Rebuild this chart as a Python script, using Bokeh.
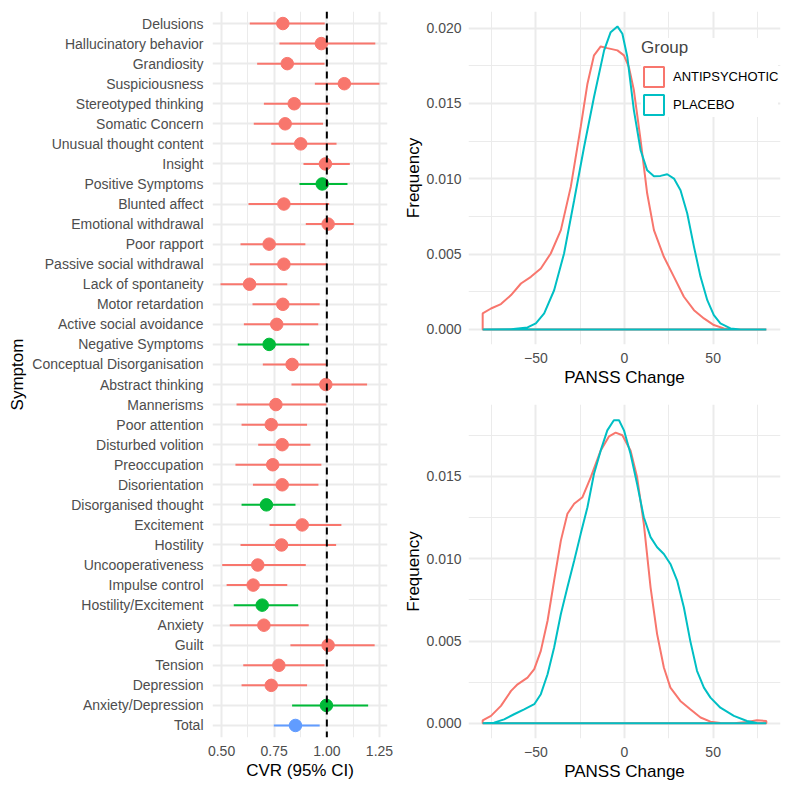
from bokeh.plotting import figure
from bokeh.layouts import row, column
from bokeh.models import (FactorRange, Range1d, FixedTicker, NumeralTickFormatter,
                          Span, Legend, LegendItem, ColumnDataSource)
from bokeh.embed import file_html
from bokeh.resources import INLINE

# ---------------- data: forest plot ----------------
symptoms = ["Delusions", "Hallucinatory behavior", "Grandiosity", "Suspiciousness",
            "Stereotyped thinking", "Somatic Concern", "Unusual thought content", "Insight",
            "Positive Symptoms", "Blunted affect", "Emotional withdrawal", "Poor rapport",
            "Passive social withdrawal", "Lack of spontaneity", "Motor retardation",
            "Active social avoidance", "Negative Symptoms", "Conceptual Disorganisation",
            "Abstract thinking", "Mannerisms", "Poor attention", "Disturbed volition",
            "Preoccupation", "Disorientation", "Disorganised thought", "Excitement",
            "Hostility", "Uncooperativeness", "Impulse control", "Hostility/Excitement",
            "Anxiety", "Guilt", "Tension", "Depression", "Anxiety/Depression", "Total"]
cvr = [0.791, 0.974, 0.812, 1.083, 0.845, 0.802, 0.876, 0.993, 0.978, 0.796, 1.006, 0.726,
       0.796, 0.633, 0.791, 0.762, 0.726, 0.835, 0.995, 0.758, 0.736, 0.788, 0.743, 0.788,
       0.713, 0.883, 0.785, 0.672, 0.650, 0.693, 0.701, 1.006, 0.772, 0.736, 0.998, 0.851]
ci_lo = [0.634, 0.775, 0.669, 0.943, 0.701, 0.653, 0.736, 0.889, 0.870, 0.628, 0.900, 0.590,
         0.634, 0.495, 0.647, 0.606, 0.577, 0.696, 0.832, 0.571, 0.595, 0.674, 0.566, 0.649,
         0.595, 0.728, 0.590, 0.503, 0.524, 0.558, 0.539, 0.827, 0.603, 0.595, 0.835, 0.748]
ci_hi = [0.990, 1.230, 0.989, 1.250, 1.014, 0.982, 1.046, 1.109, 1.098, 1.011, 1.128, 0.898,
         1.001, 0.812, 0.966, 0.959, 0.916, 0.998, 1.191, 0.998, 0.906, 0.922, 0.974, 0.960,
         0.851, 1.069, 1.044, 0.900, 0.812, 0.864, 0.914, 1.227, 0.989, 0.906, 1.196, 0.966]
level = ["item"] * 8 + ["domain"] + ["item"] * 7 + ["domain"] + ["item"] * 7 + ["domain"] + \
        ["item"] * 4 + ["domain"] + ["item"] * 4 + ["domain", "total"]
x_ticks_cvr = [0.50, 0.75, 1.00, 1.25]
x_minor_cvr = [0.625, 0.875, 1.125]

# ---------------- data: density curves ----------------
top_anti_x = [-80, -80, -75.3, -69.7, -64, -58.4, -52.8, -47.2, -41.6, -35.9, -30.3, -24.7, -20.9,
              -17.2, -13.4, -9.7, -4.0, -0.3, 2.5, 5.3, 9.1, 12.8, 16.6, 22.2, 27.9, 33.5, 39.2,
              44.8, 50.4, 56.0, 61.7, 80]
top_anti_y = [0, 0.00106, 0.00139, 0.00168, 0.00228, 0.00305, 0.00349, 0.00404, 0.00504, 0.00659,
              0.00946, 0.01344, 0.01631, 0.01819, 0.01878, 0.01867, 0.01852, 0.01819, 0.01741,
              0.01587, 0.01255, 0.00902, 0.00659, 0.00482, 0.00349, 0.00217, 0.00128, 0.00073,
              0.00029, 0.00007, 0, 0]
top_plac_x = [-80, -64, -54.7, -50, -45.3, -39.7, -34.1, -28.4, -22.8, -17.2, -11.5, -7.8, -4.0,
              -1.2, 1.6, 5.3, 9.1, 12.8, 16.6, 20.3, 24.1, 27.9, 31.6, 35.4, 39.2, 42.9, 46.7,
              50.4, 54.1, 59.8, 65.4, 80]
top_plac_y = [0, 0.00002, 0.00013, 0.0004, 0.00106, 0.0026, 0.00504, 0.00857, 0.01211, 0.01543,
              0.01852, 0.01973, 0.02011, 0.01962, 0.01808, 0.01454, 0.01189, 0.01056, 0.01017,
              0.01019, 0.0103, 0.01001, 0.00924, 0.00769, 0.00548, 0.00349, 0.00194, 0.00095,
              0.0004, 0.00007, 0, 0]
bot_anti_x = [-80, -80, -75.3, -69.7, -64, -60.3, -54.7, -50.9, -47.2, -43.4, -39.7, -35.9, -32.2,
              -28.4, -23.7, -19.0, -13.4, -8.7, -5.0, -1.2, 3.4, 7.1, 10.9, 14.7, 18.4, 22.2,
              25.9, 31.5, 37.1, 42.9, 48.5, 54.1, 61.7, 69.1, 74.7, 80, 80]
bot_anti_y = [0, 0.00018, 0.00045, 0.00106, 0.00197, 0.00237, 0.00278, 0.00329, 0.0044, 0.00623,
              0.00867, 0.0111, 0.01273, 0.01334, 0.01374, 0.01496, 0.01658, 0.01744, 0.01766,
              0.0175, 0.01658, 0.01496, 0.01212, 0.00826, 0.00542, 0.00339, 0.00217, 0.00136,
              0.00085, 0.00035, 0.0001, 0.00002, 0, 0.00008, 0.00018, 0.00014, 0]
bot_plac_x = [-80, -73.6, -67.9, -62.3, -56.6, -50.9, -47.2, -43.4, -39.7, -35.9, -32.2, -28.4,
              -24.7, -20.9, -17.2, -13.4, -9.7, -6.0, -3.1, -0.3, 3.4, 7.1, 10.9, 14.7, 18.4,
              22.2, 25.9, 29.7, 33.5, 37.1, 40.9, 44.8, 48.5, 54.1, 61.7, 69.1, 74.7, 80]
bot_plac_y = [0, 0.00004, 0.00024, 0.00055, 0.00085, 0.00116, 0.00177, 0.00298, 0.00461, 0.00664,
              0.00826, 0.00988, 0.01151, 0.01313, 0.01516, 0.01658, 0.0178, 0.01841, 0.01841,
              0.0178, 0.01638, 0.01455, 0.01252, 0.01131, 0.0107, 0.01029, 0.00968, 0.00867,
              0.00704, 0.00501, 0.00319, 0.00217, 0.00156, 0.00095, 0.00045, 0.00014, 0.00002, 0]
groups = ["ANTIPSYCHOTIC", "PLACEBO"]
x_ticks_panss = [-50, 0, 50]
x_minor_panss = [-75, -25, 25, 75]
y_ticks_top = [0, 0.005, 0.010, 0.015, 0.020]
y_minor_top = [0.0025, 0.0075, 0.0125, 0.0175]
y_ticks_bot = [0, 0.005, 0.010, 0.015]
y_minor_bot = [0.0025, 0.0075, 0.0125, 0.0175]

# ---------------- styling ----------------
FONT = "Liberation Sans"
TICK_COL = "#4D4D4D"
GRID = "#EBEBEB"
level_colors = {"item": "#F8766D", "domain": "#00BA38", "total": "#619CFF"}
group_colors = {"ANTIPSYCHOTIC": "#F8766D", "PLACEBO": "#00BFC4"}


def style(p):
    p.outline_line_color = None
    for ax in p.axis:
        ax.axis_line_color = None
        ax.major_tick_line_color = None
        ax.minor_tick_line_color = None
        ax.major_tick_out = 0
        ax.minor_tick_out = 0
        ax.major_label_text_font = FONT
        ax.major_label_text_font_size = "14px"
        ax.major_label_text_color = TICK_COL
        ax.axis_label_text_font = FONT
        ax.axis_label_text_font_size = "17px"
        ax.axis_label_text_font_style = "normal"
        ax.axis_label_text_color = "black"
    for ax in p.xaxis:
        ax.major_label_standoff = 8
        ax.axis_label_standoff = 2
    for g in p.grid:
        g.grid_line_color = GRID
        g.grid_line_width = 2
    p.background_fill_color = "white"
    p.border_fill_color = "white"


# ---------------- left: forest plot ----------------
src = ColumnDataSource(dict(sym=symptoms, cvr=cvr, lo=ci_lo, hi=ci_hi,
                            col=[level_colors[l] for l in level]))
p1 = figure(width=398, height=791, output_backend="svg", toolbar_location=None,
            y_range=FactorRange(factors=list(reversed(symptoms)), range_padding=0.1,
                                range_padding_units="absolute"),
            x_range=Range1d(0.457, 1.288),
            min_border_left=212, min_border_right=11, min_border_top=11, min_border_bottom=54)
p1.segment(x0="lo", y0="sym", x1="hi", y1="sym", line_color="col", line_width=2, source=src)
p1.scatter(x="cvr", y="sym", size=12.5, fill_color="col", line_color="col", source=src)
p1.add_layout(Span(location=1.0, dimension="height", line_color="black", line_width=2,
                   line_dash="7 5"))
p1.xaxis.ticker = FixedTicker(ticks=x_ticks_cvr, minor_ticks=x_minor_cvr)
p1.xaxis.formatter = NumeralTickFormatter(format="0.00")
p1.xaxis.axis_label = "CVR (95% CI)"
p1.yaxis.axis_label = "Symptom"
style(p1)
p1.xgrid.minor_grid_line_color = GRID
p1.xgrid.minor_grid_line_width = 1
p1.yaxis.major_label_standoff = 9
p1.yaxis.axis_label_standoff = 2


# ---------------- right: density plots ----------------
def density_fig(h, yr, bt, bb, anti_x, anti_y, plac_x, plac_y, yt, ym):
    p = figure(width=402, height=h, output_backend="svg", toolbar_location=None,
               x_range=Range1d(-88, 88), y_range=Range1d(*yr),
               min_border_left=70, min_border_right=20, min_border_top=bt, min_border_bottom=bb)
    ra = p.patch(anti_x, anti_y, fill_alpha=0, line_color=group_colors[groups[0]], line_width=2)
    rp = p.patch(plac_x, plac_y, fill_alpha=0, line_color=group_colors[groups[1]], line_width=2)
    p.xaxis.ticker = FixedTicker(ticks=x_ticks_panss, minor_ticks=x_minor_panss)
    p.xaxis.major_label_overrides = {t: (str(t).replace("-", "\u2212")) for t in x_ticks_panss}
    p.yaxis.ticker = FixedTicker(ticks=yt, minor_ticks=ym)
    p.yaxis.formatter = NumeralTickFormatter(format="0.000")
    p.xaxis.axis_label = "PANSS Change"
    p.yaxis.axis_label = "Frequency"
    style(p)
    for g in p.grid:
        g.minor_grid_line_color = GRID
        g.minor_grid_line_width = 1
    p.yaxis.major_label_standoff = 7
    p.yaxis.axis_label_standoff = 0
    return p, ra, rp


p2, ra2, rp2 = density_fig(395, (-0.001, 0.0211), 11, 51, top_anti_x, top_anti_y,
                           top_plac_x, top_plac_y, y_ticks_top, y_minor_top)
p3, ra3, rp3 = density_fig(396, (-0.000923, 0.01937), 9, 53, bot_anti_x, bot_anti_y,
                           bot_plac_x, bot_plac_y, y_ticks_bot, y_minor_bot)

legend = Legend(items=[LegendItem(label=groups[0], renderers=[ra2]),
                       LegendItem(label=groups[1], renderers=[rp2])],
                location=(173, 227), title="Group",
                glyph_width=25, glyph_height=25, label_standoff=7, spacing=3,
                padding=2, margin=0, title_standoff=6,
                border_line_color=None, background_fill_color="white", background_fill_alpha=1,
                label_text_font=FONT, label_text_font_size="13px", label_text_color="black",
                title_text_font=FONT, title_text_font_size="17px", title_text_font_style="normal")
p2.add_layout(legend)

layout = row(p1, column(p2, p3))
open("out.html", "w").write(file_html(layout, INLINE))
